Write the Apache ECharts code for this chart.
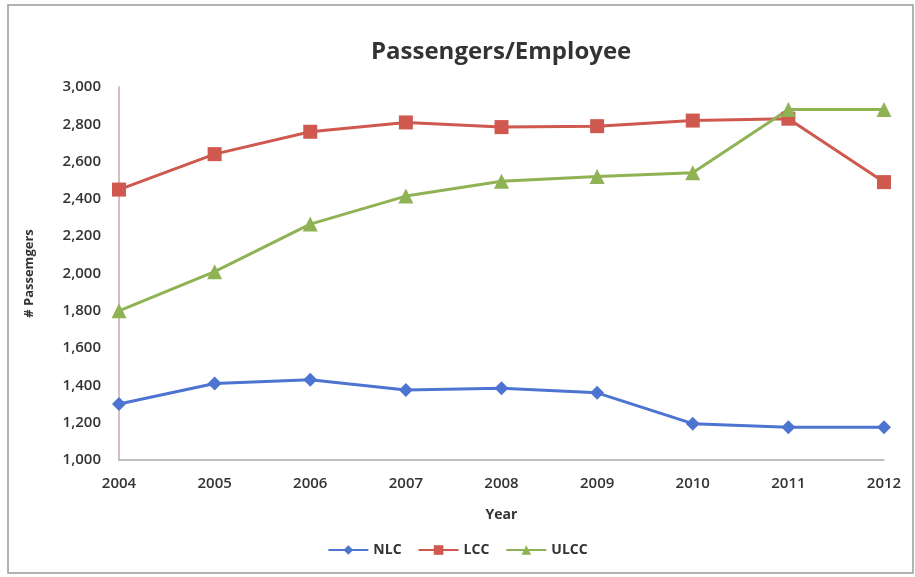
<!DOCTYPE html>
<html><head><meta charset="utf-8">
<script src="https://cdn.jsdelivr.net/npm/echarts@6/dist/echarts.min.js"></script>
<style>html,body{margin:0;padding:0;background:#fff}#c{width:915px;height:577px}</style>
</head><body><div id="c"></div>
<script>
const years = ['2004','2005','2006','2007','2008','2009','2010','2011','2012'];
const nlc  = [1300, 1410, 1430, 1375, 1385, 1360, 1195, 1175, 1175];
const lcc  = [2450, 2640, 2760, 2810, 2785, 2790, 2820, 2830, 2490];
const ulcc = [1800, 2010, 2265, 2415, 2495, 2520, 2540, 2880, 2880];
const yTicks = [1000, 3000, 200];

const font = '"Open Sans", "Liberation Sans", sans-serif';
const chart = echarts.init(document.getElementById('c'), null, {renderer: 'canvas'});
const mk = (name, data, color, symbol, size) => ({
  name, type: 'line', data, symbol, symbolSize: size, showSymbol: true,
  lineStyle: {color, width: 3}, itemStyle: {color}, animation: false
});
chart.setOption({
  animation: false,
  backgroundColor: '#fff',
  graphic: [{type: 'rect', shape: {x: 8, y: 5, width: 905, height: 568},
    style: {fill: 'none', stroke: '#9a9a9a', lineWidth: 1.5}, silent: true}],
  title: {text: 'Passengers/Employee', left: 366, top: 35,
    textStyle: {fontFamily: font, fontSize: 24, fontWeight: 'bold', color: '#333'}},
  grid: {left: 119, right: 31, top: 87, bottom: 117},
  legend: {bottom: 15, left: 'center', itemWidth: 40, itemHeight: 12, itemGap: 16,
    textStyle: {fontFamily: font, fontSize: 14, fontWeight: 'bold', color: '#333'},
    data: ['NLC', 'LCC', 'ULCC']},
  xAxis: {type: 'category', data: years, boundaryGap: false,
    name: 'Year', nameLocation: 'middle', nameGap: 48,
    nameTextStyle: {fontFamily: font, fontSize: 14, fontWeight: 'bold', color: '#333'},
    axisLine: {lineStyle: {color: '#aaa', width: 1.5}}, axisTick: {show: false},
    axisLabel: {fontFamily: font, fontSize: 15, color: '#333', margin: 16, fontWeight: 600}},
  yAxis: {type: 'value', min: yTicks[0], max: yTicks[1], interval: yTicks[2],
    name: '# Passemgers', nameLocation: 'middle', nameGap: 83, nameRotate: 90,
    nameTextStyle: {fontFamily: font, fontSize: 13, fontWeight: 'bold', color: '#333'},
    axisLine: {show: true, lineStyle: {color: '#c9a9a9', width: 1.5}}, axisTick: {show: false},
    splitLine: {show: false},
    axisLabel: {fontFamily: font, fontSize: 15, color: '#333', margin: 18, fontWeight: 600,
      formatter: v => v.toLocaleString('en-US')}},
  series: [
    mk('NLC', nlc, '#4d74d0', 'diamond', 14),
    mk('LCC', lcc, '#cf584f', 'rect', 14),
    mk('ULCC', ulcc, '#8fb255', 'triangle', 15)
  ]
});
</script></body></html>
